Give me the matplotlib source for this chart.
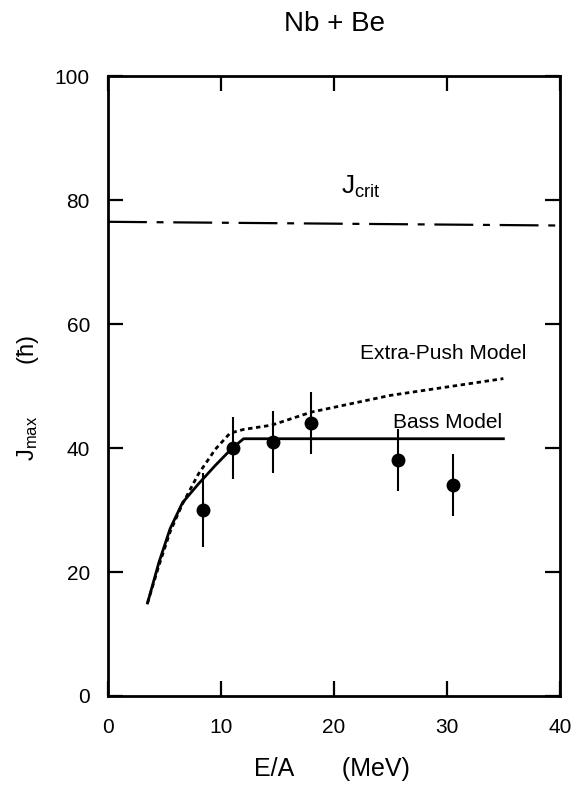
import numpy as np
import matplotlib
matplotlib.use('Agg')
import matplotlib.pyplot as plt

plt.rcParams['font.family'] = ['Liberation Sans', 'DejaVu Sans']
plt.rcParams['mathtext.default'] = 'regular'
plt.rcParams['lines.scale_dashes'] = False

# measured points
ea_data = [8.4, 11.1, 14.6, 18.0, 25.7, 30.5]
jmax_data = [30, 40, 41, 44, 38, 34]
jmax_err = [6, 5, 5, 5, 5, 5]

# Bass model (solid)
ea_bass = [3.5, 4.5, 5.5, 6.6, 8.0, 9.5, 11.0, 12.0, 35.0]
j_bass = [15.0, 21.5, 27.0, 31.2, 34.2, 37.2, 40.0, 41.5, 41.5]

# Extra-push model (dotted)
ea_push = [3.5, 4.5, 5.5, 6.6, 8.0, 9.5, 10.8, 12.0, 14.5, 18.0, 25.0, 35.0]
j_push = [15.0, 21.0, 26.5, 31.0, 35.8, 39.8, 42.4, 43.0, 43.7, 45.8, 48.5, 51.2]

# J_crit (dash-dot)
ea_crit = [0, 40]
j_crit = [76.5, 75.9]

fig = plt.figure(figsize=(5.76, 7.85), dpi=100)
ax = fig.add_axes([0.1875, 0.1134, 0.7845, 0.7896])

ax.plot(ea_crit, j_crit, color='black', lw=1.6, dashes=(28, 7, 5, 7))
ax.plot(ea_bass, j_bass, color='black', lw=2.0, solid_joinstyle='round')
ax.plot(ea_push, j_push, color='black', lw=2.0, dashes=(3.2, 2.6))
ax.errorbar(ea_data, jmax_data, yerr=jmax_err, fmt='o', color='black',
            ms=9, elinewidth=1.5, capsize=0)

ax.text(22.4, 82.2, 'J$_{crit}$', fontsize=19, ha='center', va='center')
ax.text(22.3, 55.2, 'Extra-Push Model', fontsize=15, ha='left', va='center')
ax.text(25.2, 44.2, 'Bass Model', fontsize=15, ha='left', va='center')

ax.set_xlim(0, 40)
ax.set_ylim(0, 100)
ax.set_xticks([0, 10, 20, 30, 40])
ax.set_yticks([0, 20, 40, 60, 80, 100])
ax.tick_params(direction='in', length=11, width=1.6, labelsize=15,
               top=True, right=True)
ax.tick_params(axis='x', pad=16)
ax.tick_params(axis='y', pad=13)
for s in ax.spines.values():
    s.set_linewidth(2.0)

fig.text(0.580, 0.970, 'Nb + Be', fontsize=20, ha='center', va='center')
fig.text(0.577, 0.02, 'E/A       (MeV)', fontsize=18, ha='center', va='center')
fig.text(0.049, 0.493, 'J$_{max}$        (ħ)', fontsize=17, ha='center',
         va='center', rotation=90)

fig.savefig('out.png', dpi=100)
